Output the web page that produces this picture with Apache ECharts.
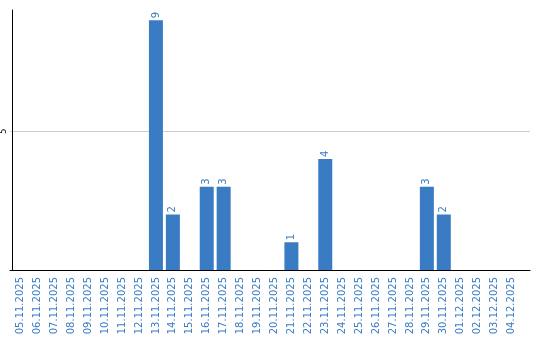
<!DOCTYPE html>
<html><head><meta charset="utf-8">
<script src="https://cdn.jsdelivr.net/npm/echarts@6/dist/echarts.min.js"></script>
<style>html,body{margin:0;padding:0;background:#fff}#c{width:540px;height:340px}</style>
</head><body><div id="c"></div>
<script>
const categories = ["05.11.2025","06.11.2025","07.11.2025","08.11.2025","09.11.2025","10.11.2025","11.11.2025","12.11.2025","13.11.2025","14.11.2025","15.11.2025","16.11.2025","17.11.2025","18.11.2025","19.11.2025","20.11.2025","21.11.2025","22.11.2025","23.11.2025","24.11.2025","25.11.2025","26.11.2025","27.11.2025","28.11.2025","29.11.2025","30.11.2025","01.12.2025","02.12.2025","03.12.2025","04.12.2025"];
const values = [null,null,null,null,null,null,null,null,9,2,null,3,3,null,null,null,1,null,4,null,null,null,null,null,3,2,null,null,null,null];
const yTicks = [5];
const yMax = 9.37;
const blue = '#3a7cc3';
const chart = echarts.init(document.getElementById('c'), null, {renderer:'canvas'});
chart.setOption({
  animation:false,
  textStyle:{fontFamily:'DejaVu Sans'},
  grid:[
    {left:10, top:10, width:510, bottom:70, containLabel:false},
    {left:10, top:10, right:10, bottom:70, containLabel:false}
  ],
  xAxis:[
    {type:'category', gridIndex:0, data:categories,
     axisLine:{show:false}, axisTick:{show:false},
     axisLabel:{rotate:90, color:blue, fontSize:10, margin:7, interval:0, fontFamily:'DejaVu Sans'}},
    {type:'value', gridIndex:1, min:0, max:1,
     axisLine:{show:true, lineStyle:{color:'#000', width:1}}, axisTick:{show:false},
     axisLabel:{show:false}, splitLine:{show:false}}
  ],
  yAxis:[
    {type:'value', gridIndex:0, min:0, max:yMax, interval:5,
     axisLine:{show:true, lineStyle:{color:'#000', width:1}}, axisTick:{show:false},
     splitLine:{show:false},
     axisLabel:{rotate:90, fontSize:8, color:'#000', margin:4, showMaxLabel:false, showMinLabel:false,
       formatter:v => yTicks.includes(v) ? String(v) : ''}},
    {type:'value', gridIndex:1, min:0, max:yMax, interval:5,
     axisLine:{show:false}, axisTick:{show:false}, axisLabel:{show:false},
     splitLine:{show:true, showMinLine:false, showMaxLine:false, lineStyle:{color:'#cccccc'}}}
  ],
  series:[{
    type:'bar', xAxisIndex:0, yAxisIndex:0, data:values, barWidth:14,
    itemStyle:{color:blue},
    label:{show:true, position:'top', rotate:90, align:'left', verticalAlign:'middle', distance:2,
      color:blue, fontSize:10, fontFamily:'DejaVu Sans'}
  }]
});
</script></body></html>
